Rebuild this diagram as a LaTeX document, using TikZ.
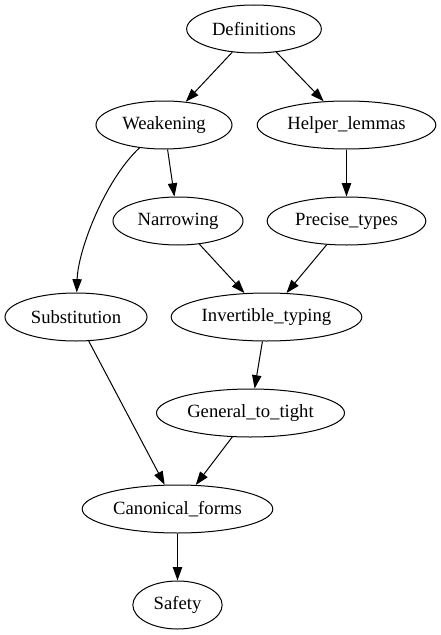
\documentclass[tikz,border=0pt]{standalone}
\usepackage{fontspec}
\setmainfont{Liberation Serif}
\usetikzlibrary{shapes.geometric,arrows.meta}
\begin{document}
\begin{tikzpicture}[x=0.75pt,y=-0.75pt,
  nd/.style={draw,ellipse,line width=0.75pt,inner sep=0pt,minimum height=36pt,font=\fontsize{14pt}{16pt}\selectfont},
  ed/.style={line width=0.75pt,-{Triangle[length=10pt,width=7pt]}}]
\useasboundingbox (0,0) rectangle (441,635);
\node[nd,minimum width=101pt] (def) at (254,29) {Definitions};
\node[nd,minimum width=102pt] (weak) at (164,125) {Weakening};
\node[nd,minimum width=134pt] (help) at (346.5,125) {Helper\_lemmas};
\node[nd,minimum width=97.5pt] (narr) at (178,221) {Narrowing};
\node[nd,minimum width=119pt] (prec) at (346.5,221) {Precise\_types};
\node[nd,minimum width=106.5pt] (subst) at (76,317) {Substitution};
\node[nd,minimum width=143pt] (inv) at (266.5,317) {Invertible\_typing};
\node[nd,minimum width=141pt] (gen) at (250.5,413) {General\_to\_tight};
\node[nd,minimum width=143pt] (canon) at (177.5,509) {Canonical\_forms};
\node[nd,minimum width=67pt] (safe) at (177.5,605) {Safety};
\draw[ed] (def) -- (weak);
\draw[ed] (def) -- (help);
\draw[ed] (weak) -- (narr);
\draw[ed] (weak) .. controls (105,180) and (78,250) .. (subst);
\draw[ed] (help) -- (prec);
\draw[ed] (narr) -- (inv);
\draw[ed] (prec) -- (inv);
\draw[ed] (inv) -- (gen);
\draw[ed] (subst) -- (canon);
\draw[ed] (gen) -- (canon);
\draw[ed] (canon) -- (safe);
\end{tikzpicture}
\end{document}
